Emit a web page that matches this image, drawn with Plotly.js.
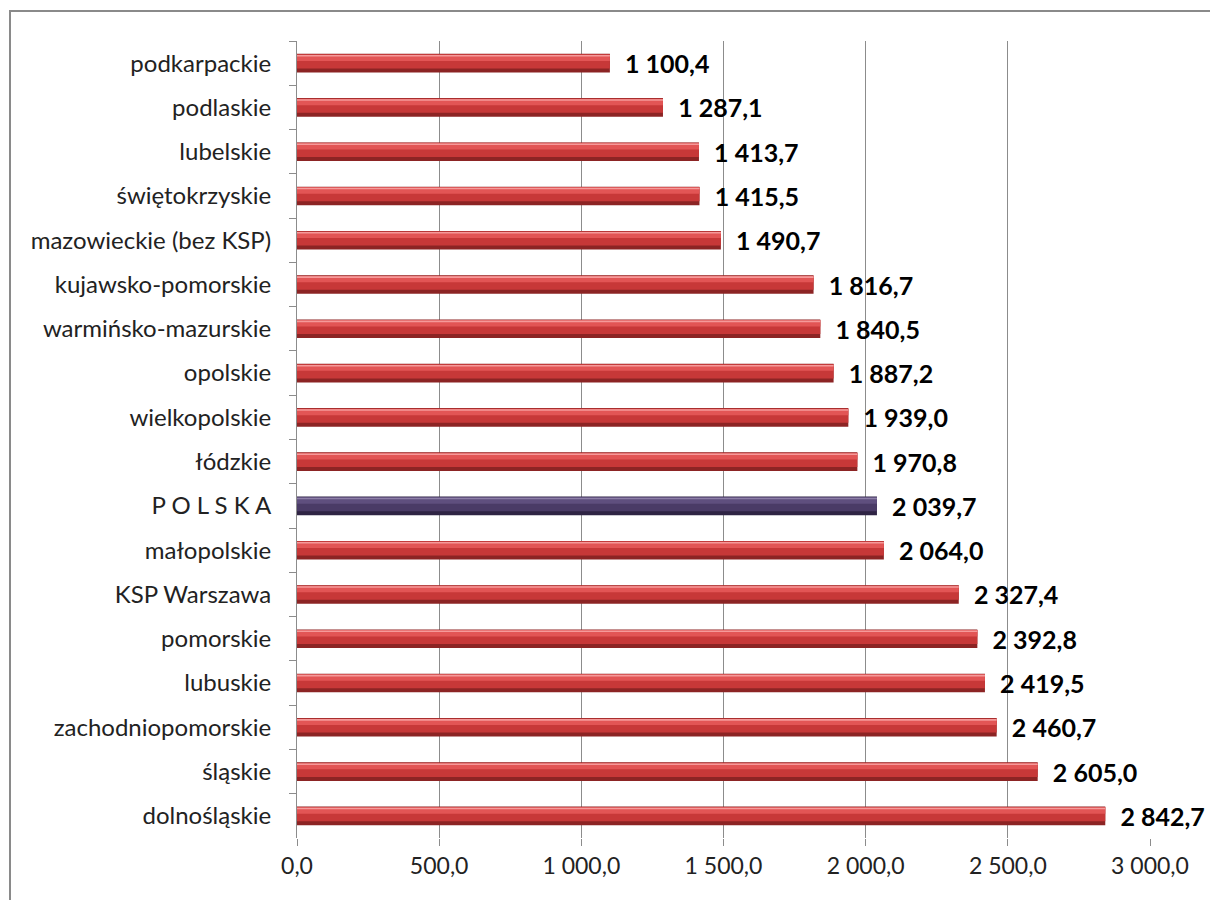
<!DOCTYPE html>
<html>
<head>
<meta charset="utf-8">
<script src="https://cdn.plot.ly/plotly-3.0.1.min.js"></script>
<style>
  html, body { margin: 0; padding: 0; background: #fff; overflow: hidden; }
  #chart { width: 1210px; height: 900px; position: absolute; left: 0; top: 0; }
  #frame { position: absolute; left: 9px; top: 10px; width: 1400px; height: 1100px;
           border: 2px solid #8a8a8a; pointer-events: none; box-sizing: border-box; }
</style>
</head>
<body>
<div id="chart"></div>
<div id="frame"></div>
<script>
// Categories listed top to bottom
const categories = [
  "podkarpackie", "podlaskie", "lubelskie", "świętokrzyskie", "mazowieckie (bez KSP)",
  "kujawsko-pomorskie", "warmińsko-mazurskie", "opolskie", "wielkopolskie", "łódzkie",
  "P O L S K A", "małopolskie", "KSP Warszawa", "pomorskie", "lubuskie",
  "zachodniopomorskie", "śląskie", "dolnośląskie"
];
const values = [
  1100.4, 1287.1, 1413.7, 1415.5, 1490.7,
  1816.7, 1840.5, 1887.2, 1939.0, 1970.8,
  2039.7, 2064.0, 2327.4, 2392.8, 2419.5,
  2460.7, 2605.0, 2842.7
];
const highlightCategory = "P O L S K A";
const xTickValues = [0, 500, 1000, 1500, 2000, 2500, 3000];

const isHl = categories.map(c => c === highlightCategory);
const baseColors = isHl.map(h => h ? "#2f2444" : "#8c2424");
const midColors  = isHl.map(h => h ? "#4a3b66" : "#c73838");
const topColors  = isHl.map(h => h ? "#5f4f7e" : "#e25555");
const hiColors   = isHl.map(h => h ? "#8d7fa8" : "#f59a9a");

const common = {
  type: "bar", orientation: "h", y: categories, x: values,
  hoverinfo: "skip", cliponaxis: false
};

const traces = [
  Object.assign({}, common, {
    width: 0.42, offset: -0.21,
    marker: { color: baseColors, line: { width: 0 } },
    texttemplate: "\u00a0\u00a0%{x:,.1f}",
    textposition: "outside",
    constraintext: "none",
    outsidetextfont: { family: "Lato, 'Open Sans', sans-serif", size: 25, color: "#000", weight: "bold" }
  }),
  Object.assign({}, common, {
    width: 0.32, offset: -0.20,
    marker: { color: midColors, line: { width: 0 } },
    textposition: "none"
  }),
  Object.assign({}, common, {
    width: 0.14, offset: -0.19,
    marker: { color: topColors, line: { width: 0 } },
    textposition: "none"
  }),
  Object.assign({}, common, {
    width: 0.035, offset: -0.185,
    marker: { color: hiColors, line: { width: 0 } },
    textposition: "none"
  })
];

const layout = {
  width: 1210, height: 900,
  margin: { l: 297, r: 60, t: 41, b: 62 },
  paper_bgcolor: "rgba(0,0,0,0)",
  plot_bgcolor: "rgba(0,0,0,0)",
  separators: ", ",
  showlegend: false,
  barmode: "overlay",
  font: { family: "Lato, 'Open Sans', sans-serif", color: "#222" },
  xaxis: {
    range: [0, 3000],
    tickvals: xTickValues,
    tickformat: ",.1f",
    showgrid: true, gridcolor: "#8c8c8c", gridwidth: 1,
    zeroline: false, showline: false,
    ticks: "outside", ticklen: 7, tickcolor: "#8c8c8c",
    tickfont: { size: 23, color: "#222" },
    fixedrange: true
  },
  yaxis: {
    type: "category",
    autorange: "reversed",
    showgrid: false, zeroline: false,
    showline: true, linecolor: "#8c8c8c", linewidth: 1,
    ticks: "outside", tickson: "boundaries", ticklen: 7, tickcolor: "#8c8c8c",
    tickfont: { size: 24, color: "#222" },
    ticklabelstandoff: 20,
    fixedrange: true
  }
};

Plotly.newPlot("chart", traces, layout, { displayModeBar: false, staticPlot: true });
</script>
</body>
</html>
